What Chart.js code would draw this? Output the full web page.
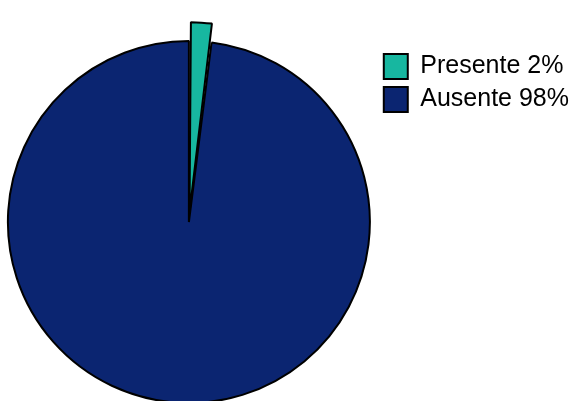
<!DOCTYPE html>
<html>
<head>
<meta charset="utf-8">
<script src="https://cdn.jsdelivr.net/npm/chart.js@4.4.1/dist/chart.umd.min.js"></script>
<style>
    html, body { margin: 0; padding: 0; background: #fff; }
    #wrap { width: 571px; height: 401px; }
</style>
</head>
<body>
<div id="wrap"><canvas id="pieChart" width="571" height="401"></canvas></div>
<script>
    // Valeurs (pourcentages)
    const categories = ['Presente', 'Ausente'];
    const percentages = [2, 98];
    const sliceColors = ['#17b7a0', '#0b2571'];

    (function () {
        'use strict';

        // ordre inversé pour que la petite part soit dessinée par-dessus
        const labels = categories.slice().reverse();
        const values = percentages.slice().reverse();
        const colors = sliceColors.slice().reverse();
        const total = values.reduce(function (a, b) { return a + b; }, 0);

        const baseLabels = Chart.overrides.pie.plugins.legend.labels.generateLabels;

        new Chart(document.getElementById('pieChart'), {
            type: 'pie',
            data: {
                labels: labels,
                datasets: [{
                    data: values,
                    backgroundColor: colors,
                    borderColor: '#000',
                    borderWidth: 2,
                    // part détachée
                    offset: labels.map(function (l) { return l === 'Presente' ? 40 : 0; }),
                    clip: false,
                }],
            },
            options: {
                responsive: false,
                animation: false,
                devicePixelRatio: 1,
                radius: 181,
                // la part "Presente" commence à midi
                rotation: 360 * percentages[0] / total,
                layout: { padding: { top: 46, bottom: 3, left: 2, right: -8 } },
                plugins: {
                    tooltip: { enabled: false },
                    legend: {
                        position: 'right',
                        align: 'start',
                        reverse: true,
                        labels: {
                            boxWidth: 24,
                            boxHeight: 25,
                            padding: 8,
                            color: '#000',
                            font: { family: '"Liberation Sans", Arial, sans-serif', size: 25 },
                            generateLabels: function (chart) {
                                return baseLabels(chart).map(function (item) {
                                    item.text = item.text + ' ' + values[item.index] + '%';
                                    item.lineWidth = 2;
                                    return item;
                                });
                            },
                        },
                    },
                },
            },
        });
    })();
</script>
</body>
</html>
